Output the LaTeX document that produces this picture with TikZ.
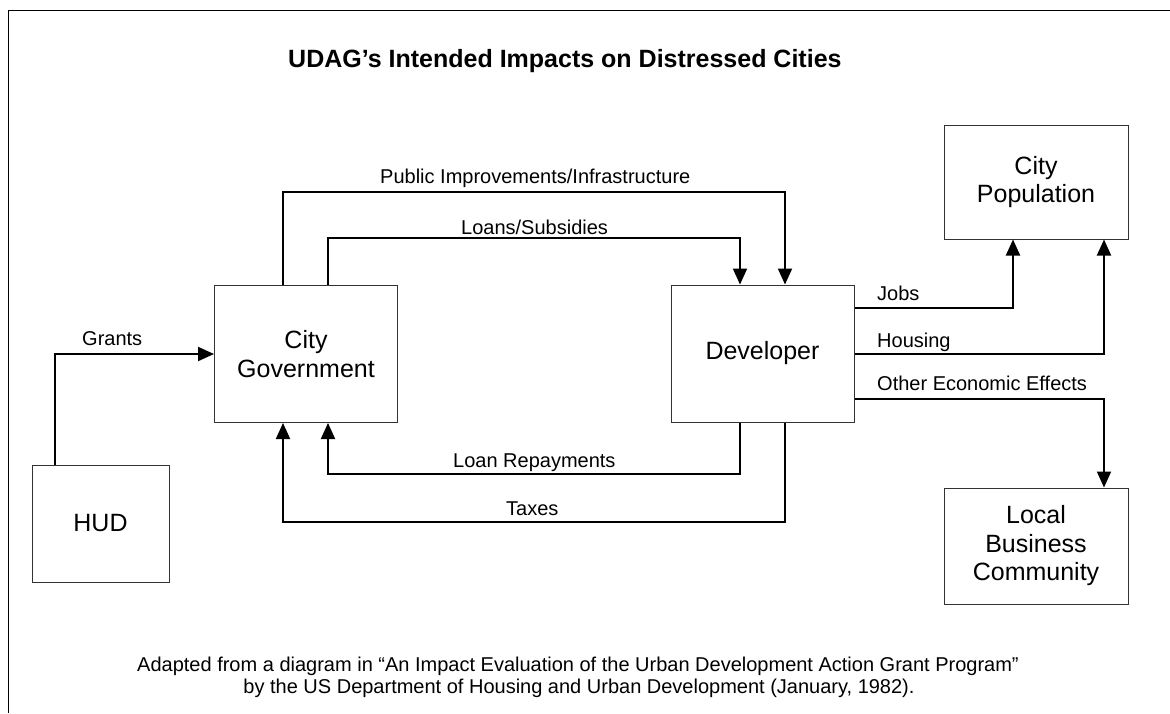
\documentclass[tikz,border=0pt]{standalone}
\usepackage{fontspec}
\setmainfont{Liberation Sans}
\usetikzlibrary{arrows.meta}

\tikzset{
  box/.style={draw=black!80, line width=1pt, minimum width=183pt, minimum height=137pt,
    inner sep=0pt, align=center, font=\fontsize{25}{28.5}\selectfont},
  flow/.style={line width=2pt, -{Triangle[length=16pt,width=14pt]}},
  lbl/.style={anchor=base west, inner sep=0pt, font=\fontsize{20}{22.5}\selectfont},
}

\begin{document}
\begin{tikzpicture}[x=1pt,y=-1pt]
  \useasboundingbox (0,0) rectangle (1170,713);
  % outer frame
  \draw[line width=1.2pt] (8.5,713) |- (1170,10.5);

  % title
  \node[anchor=base west, inner sep=0pt, font=\bfseries\fontsize{25}{28}\selectfont] (title) at (288,67)
    {UDAG’s Intended Impacts on Distressed Cities};

  % actors
  \node[box] (gov) at (306,354) {City\\Government};
  \node[box] (dev) at (762.5,353.5) {Developer};
  \node[box, minimum width=137pt, minimum height=117pt] (hud) at (100.5,523.5) {HUD};
  \node[box, minimum width=184pt, minimum height=114pt] (pop) at (1036,182) {City\\Population};
  \node[box, minimum width=184pt, minimum height=116pt] (local) at (1036,546) {Local\\Business\\Community};

  % money into the city
  \draw[flow] ([xshift=-45.5pt]hud.north) |- (gov.west);

  % city to developer, over the top
  \draw[flow] ([xshift=-23pt]gov.north) -- ++(0,-93) -| ([xshift=22.5pt]dev.north);
  \draw[flow] ([xshift=22pt]gov.north) -- ++(0,-47) -| ([xshift=-22.5pt]dev.north);

  % developer back to city, underneath
  \draw[flow] ([xshift=-22.5pt]dev.south) -- ++(0,51) -| ([xshift=22pt]gov.south);
  \draw[flow] ([xshift=22.5pt]dev.south) -- ++(0,99) -| ([xshift=-23pt]gov.south);

  % effects
  \draw[flow] ([yshift=45.5pt]dev.east) -| ([xshift=-23pt]pop.south);
  \draw[flow] (dev.east) -| ([xshift=68pt]pop.south);
  \draw[flow] ([yshift=-45.5pt]dev.east) -| ([xshift=68pt]local.north);

  % flow labels
  \node[lbl] (grants) at (82,345) {Grants};
  \node[lbl] (public) at (380,183) {Public Improvements/Infrastructure};
  \node[lbl] (loans) at (461,234) {Loans/Subsidies};
  \node[lbl] (repay) at (453,467) {Loan Repayments};
  \node[lbl] (taxes) at (506,515) {Taxes};
  \node[lbl] (jobs) at (877,300) {Jobs};
  \node[lbl] (housing) at (877,347) {Housing};
  \node[lbl] (other) at (877,390) {Other Economic Effects};

  % source note
  \node[anchor=base, inner sep=0pt, font=\fontsize{20}{22}\selectfont] (note1) at (578,671)
    {Adapted from a diagram in “An Impact Evaluation of the Urban Development Action Grant Program”};
  \node[anchor=base, inner sep=0pt, font=\fontsize{20}{22}\selectfont] (note2) at (579,693)
    {by the US Department of Housing and Urban Development (January, 1982).};
\end{tikzpicture}
\end{document}
